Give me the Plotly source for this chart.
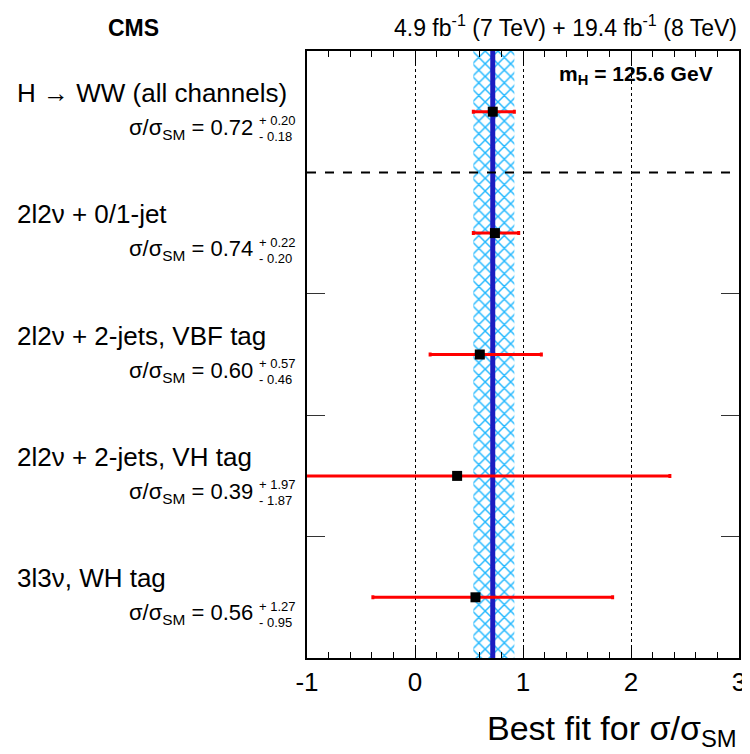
import plotly.graph_objects as go

# ---- data ----
labels = ["H \u2192 WW (all channels)", "2l2\u03bd + 0/1-jet", "2l2\u03bd + 2-jets, VBF tag",
          "2l2\u03bd + 2-jets, VH tag", "3l3\u03bd, WH tag"]
mu = [0.72, 0.74, 0.60, 0.39, 0.56]
err_hi = [0.20, 0.22, 0.57, 1.97, 1.27]
err_lo = [0.18, 0.20, 0.46, 1.87, 0.95]
x_ticks = [-1, 0, 1, 2, 3]

n = len(labels)
row_y = [n - i - 0.5 for i in range(n)]

# page has an 8px body margin, so the figure is 8px smaller on each axis
OFF = 8
W, H = 750 - OFF, 754 - OFF
REF_L, REF_T = 307, 51
L, R, T, B = REF_L - OFF, 11, REF_T - OFF, 96
FONT = "Liberation Sans, Arial, Helvetica, sans-serif"

fig = go.Figure()

# combined band (hatched)
b_lo = mu[0] - err_lo[0]
b_hi = mu[0] + err_hi[0]
fig.add_trace(go.Scatter(
    x=[b_lo, b_hi, b_hi, b_lo, b_lo], y=[0, 0, n, n, 0],
    mode="lines", fill="toself", line=dict(width=0), fillcolor="rgba(0,0,0,0)",
    fillpattern=dict(shape="x", fgcolor="#22b8ff", bgcolor="rgba(255,255,255,0)", size=9, solidity=0.3),
    hoverinfo="skip", showlegend=False))

# central value line
fig.add_trace(go.Scatter(x=[mu[0], mu[0]], y=[0, n], mode="lines",
                         line=dict(color="#1c1cc0", width=5), showlegend=False, hoverinfo="skip"))

# points with errors
fig.add_trace(go.Scatter(
    x=mu, y=row_y, mode="markers",
    marker=dict(symbol="square", color="black", size=10),
    error_x=dict(type="data", array=err_hi, arrayminus=err_lo, color="#ff0000", thickness=3, width=2),
    showlegend=False))

# dashed separator
fig.add_shape(type="line", xref="paper", x0=0, x1=1, yref="y", y0=n - 1, y1=n - 1,
              line=dict(color="black", width=2, dash="dash"))

ann = []
def px_ann(text, xpx, ypx_off, yval, size, anchor="left"):
    ann.append(dict(text=text, xref="paper", x=0, xshift=xpx - REF_L,
                    yref="y", y=yval, yshift=ypx_off, xanchor=anchor, yanchor="middle",
                    showarrow=False, font=dict(family=FONT, size=size, color="black")))

for i in range(n):
    px_ann(labels[i], 15, 19, row_y[i], 26)
    px_ann("\u03c3/\u03c3<sub>SM</sub> = %.2f" % mu[i], 255, -17, row_y[i], 22, anchor="right")
    px_ann("+ %.2f" % err_hi[i], 257, -9, row_y[i], 13)
    px_ann("- %.2f" % err_lo[i], 257, -25, row_y[i], 13)

# header texts
ann.append(dict(text="<b>CMS</b>", xref="paper", x=0, xshift=133 - REF_L, yref="paper", y=1,
                yshift=REF_T - 28, xanchor="center", yanchor="middle", showarrow=False,
                font=dict(family=FONT, size=23, color="black")))
ann.append(dict(text="4.9 fb<sup>-1</sup> (7 TeV) + 19.4 fb<sup>-1</sup> (8 TeV)", xref="paper", x=1,
                xshift=0, yref="paper", y=1, yshift=REF_T - 26, xanchor="right", yanchor="middle",
                showarrow=False, font=dict(family=FONT, size=23, color="black")))
ann.append(dict(text="<b>m<sub>H</sub> = 125.6 GeV</b>", xref="paper", x=0, xshift=715 - REF_L,
                yref="paper", y=1, yshift=-24, xanchor="right", yanchor="middle", showarrow=False,
                font=dict(family=FONT, size=21, color="black")))
ann.append(dict(text="Best fit for \u03c3/\u03c3<sub>SM</sub>", xref="paper", x=1, xshift=0, yref="paper",
                y=0, yshift=-72, xanchor="right", yanchor="middle", showarrow=False,
                font=dict(family=FONT, size=34, color="black")))

fig.update_layout(
    template="none",
    width=W, height=H, margin=dict(l=L, r=R, t=T, b=B, autoexpand=False),
    paper_bgcolor="white", plot_bgcolor="white",
    font=dict(family=FONT, color="black"),
    annotations=ann, showlegend=False,
    xaxis=dict(range=[x_ticks[0], x_ticks[-1]], tickvals=x_ticks, ticktext=[str(v) for v in x_ticks],
               ticks="inside", ticklen=12, tickwidth=1, tickcolor="black", automargin=False,
               showline=True, linecolor="black", linewidth=2, mirror="ticks",
               showgrid=True, gridcolor="black", griddash="dot", gridwidth=1, zeroline=False,
               minor=dict(dtick=0.2, ticks="inside", ticklen=6, tickcolor="black", showgrid=False),
               tickfont=dict(family=FONT, size=26, color="black")),
    yaxis=dict(range=[0, n], tickvals=[1, 2, 3], ticks="inside", ticklen=18, tickcolor="#333333",
               showticklabels=False, showline=True, linecolor="black", linewidth=2, mirror="ticks",
               showgrid=False, zeroline=False, automargin=False),
)

fig.write_html("out.html")
